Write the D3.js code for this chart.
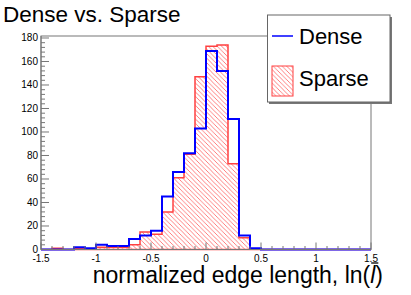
<!DOCTYPE html>
<html>
<head>
<meta charset="utf-8">
<script src="https://cdn.jsdelivr.net/npm/d3@7"></script>
<style>
  body { margin: 0; background: #fff; }
  text { font-family: "Liberation Sans", Arial, sans-serif; }
</style>
</head>
<body>
<svg id="chart" width="411" height="295"></svg>
<script>
// bin lower edges (width 0.1), last entry is the upper edge of the last bin
const binEdges = [-1.5, -1.4, -1.3, -1.2, -1.1, -1.0, -0.9, -0.8, -0.7, -0.6,
  -0.5, -0.4, -0.3, -0.2, -0.1, 0.0, 0.1, 0.2, 0.3, 0.4,
  0.5, 0.6, 0.7, 0.8, 0.9, 1.0, 1.1, 1.2, 1.3, 1.4, 1.5]
const dense = [0, 0, 0, 2, 1, 4, 3, 3, 9, 12,
  16, 45, 66, 82, 103, 169, 152, 111, 12, 1,
  0, 0, 0, 0, 0, 0, 0, 0, 0, 0]
const sparse = [0, 1, 0, 1, 0, 2, 2, 2, 4, 15,
  13, 32, 61, 81, 147, 173, 174, 73, 10, 0,
  0, 0, 0, 0, 0, 0, 0, 0, 0, 0]
const xTicks = [-1.5, -1, -0.5, 0, 0.5, 1, 1.5]
const yTicks = [0, 20, 40, 60, 80, 100, 120, 140, 160, 180]
const titleText = "Dense vs. Sparse"
const legendLabels = ["Dense", "Sparse"]

const svg = d3.select("#chart")
const x = d3.scaleLinear().domain([-1.5, 1.5]).range([41, 371])
const y = d3.scaleLinear().domain([0, 181.7]).range([249.5, 36])

// hatch for the sparse fill
const defs = svg.append("defs")
defs.append("pattern")
  .attr("id", "hatch")
  .attr("patternUnits", "userSpaceOnUse")
  .attr("width", 4.5).attr("height", 4.5)
  .append("path")
  .attr("d", "M-1,-1 L5.5,5.5 M3.5,-1 L5.5,1 M-1,3.5 L1,5.5")
  .attr("stroke", "#ff6060")
  .attr("stroke-width", 0.8)
  .attr("fill", "none")

// step points for a histogram
const steps = (vals) => {
  const pts = vals.map((v, i) => [binEdges[i], v])
  pts.push([binEdges[binEdges.length - 1], vals[vals.length - 1]])
  return pts
}
const area = d3.area()
  .x(d => x(d[0])).y0(y(0)).y1(d => y(d[1]))
  .curve(d3.curveStepAfter)
const line = d3.line()
  .x(d => x(d[0])).y(d => y(d[1]))
  .curve(d3.curveStepAfter)

// frame
svg.append("rect")
  .attr("x", x(-1.5)).attr("y", y.range()[1])
  .attr("width", x(1.5) - x(-1.5)).attr("height", y(0) - y.range()[1])
  .attr("fill", "none").attr("stroke", "#777").attr("stroke-width", 1)

// sparse: hatched fill + red outline
svg.append("path")
  .attr("d", area(steps(sparse)))
  .attr("fill", "url(#hatch)")
svg.append("path")
  .attr("d", line(steps(sparse)) + `L${x(1.5)},${y(0)}L${x(-1.5)},${y(0)}Z`)
  .attr("fill", "none").attr("stroke", "#ff4040").attr("stroke-width", 1.5)

// dense: blue outline
svg.append("path")
  .attr("d", `M${x(-1.5)},${y(0)}` + line(steps(dense)).replace(/^M/, "L") + `L${x(1.5)},${y(0)}`)
  .attr("fill", "none").attr("stroke", "#0000ff").attr("stroke-width", 2)

// x axis, ticks pointing up
const xMinor = binEdges.filter(v => !xTicks.includes(Math.round(v * 10) / 10))
const gx = svg.append("g").attr("transform", `translate(0,${y(0)})`)
gx.append("line").attr("x1", x(-1.5)).attr("x2", x(1.5)).attr("stroke", "#777")
gx.selectAll(".minor").data(xMinor).join("line")
  .attr("x1", d => x(d)).attr("x2", d => x(d))
  .attr("y1", 0).attr("y2", -3.5).attr("stroke", "#777")
gx.selectAll(".major").data(xTicks).join("line")
  .attr("x1", d => x(d)).attr("x2", d => x(d))
  .attr("y1", 0).attr("y2", -7).attr("stroke", "#777")
gx.selectAll("text").data(xTicks).join("text")
  .attr("x", d => x(d)).attr("y", 12)
  .attr("text-anchor", "middle")
  .attr("font-size", 10)
  .text(d => d)

// y axis, ticks pointing right
const yMinor = d3.range(0, 181, 4).filter(v => v % 20 !== 0)
const gy = svg.append("g").attr("transform", `translate(${x(-1.5)},0)`)
gy.append("line").attr("y1", y(0)).attr("y2", y.range()[1]).attr("stroke", "#777")
gy.selectAll(".minor").data(yMinor).join("line")
  .attr("y1", d => y(d)).attr("y2", d => y(d))
  .attr("x1", 0).attr("x2", 4).attr("stroke", "#777")
gy.selectAll(".major").data(yTicks).join("line")
  .attr("y1", d => y(d)).attr("y2", d => y(d))
  .attr("x1", 0).attr("x2", 8).attr("stroke", "#777")
gy.selectAll("text").data(yTicks).join("text")
  .attr("x", -3).attr("y", d => y(d) + 3.5)
  .attr("text-anchor", "end")
  .attr("font-size", 10)
  .text(d => d)

// axis title, with an overline drawn on the italic l
const xt = svg.append("text")
  .attr("x", 383).attr("y", 283)
  .attr("text-anchor", "end")
  .attr("font-size", 23)
xt.append("tspan").text("normalized edge length, ln(")
xt.append("tspan").attr("font-style", "italic").text("l")
xt.append("tspan").text(")")
const xtNode = xt.node()
const lStart = xtNode.getStartPositionOfChar(27)
const lEnd = xtNode.getEndPositionOfChar(27)
svg.append("line")
  .attr("x1", lStart.x + 1).attr("x2", lEnd.x + 3)
  .attr("y1", 263).attr("y2", 263)
  .attr("stroke", "#000").attr("stroke-width", 1.3)

// title
svg.append("text")
  .attr("x", 3).attr("y", 22)
  .attr("font-size", 22.5)
  .text(titleText)

// legend
const lg = svg.append("g")
lg.append("rect").attr("x", 269).attr("y", 17).attr("width", 123).attr("height", 87).attr("fill", "#777")
lg.append("rect").attr("x", 267.5).attr("y", 15).attr("width", 122.5).attr("height", 87)
  .attr("fill", "#fff").attr("stroke", "#666").attr("stroke-width", 1)
lg.append("line").attr("x1", 272).attr("x2", 293).attr("y1", 36).attr("y2", 36)
  .attr("stroke", "#0000ff").attr("stroke-width", 1.5)
lg.append("rect").attr("x", 272).attr("y", 66).attr("width", 21).attr("height", 30)
  .attr("fill", "url(#hatch)").attr("stroke", "#ff4040").attr("stroke-width", 1)
lg.selectAll(".lab").data(legendLabels).join("text")
  .attr("x", 299).attr("y", (d, i) => 44 + i * 42)
  .attr("font-size", 22)
  .text(d => d)
</script>
</body>
</html>
